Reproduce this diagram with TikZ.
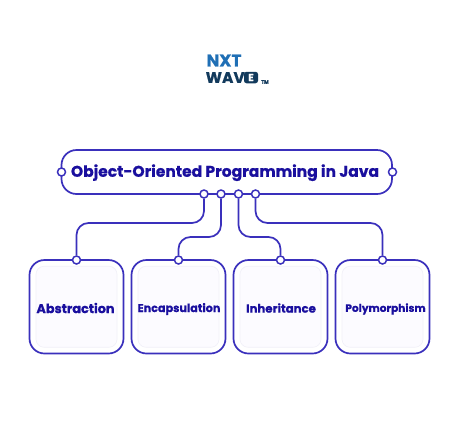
\documentclass[tikz,border=0pt]{standalone}
\usepackage{fontspec}
\setmainfont{Poppins}[BoldFeatures={FakeBold=0.6}]
\definecolor{linec}{HTML}{3A30BC}
\definecolor{textc}{HTML}{1A0F9E}
\definecolor{inner}{HTML}{FCFBFF}
\definecolor{innerl}{HTML}{F1F0F8}
\definecolor{logoa}{HTML}{1F6FB5}
\definecolor{logob}{HTML}{123A5C}
\tikzset{
  x=1pt,y=-1pt,
  titlebox/.style={draw=linec,line width=1.7pt,fill=white,rounded corners=15pt,minimum width=330.5pt,minimum height=44pt,inner sep=0pt},
  cardbox/.style={draw=linec,line width=1.7pt,fill=white,rounded corners=15pt,minimum width=94pt,minimum height=93.5pt,inner sep=0pt},
  cardin/.style={draw=innerl,line width=.6pt,fill=inner,rounded corners=8pt,minimum width=81pt,minimum height=81pt,inner sep=0pt},
  port/.style={circle,draw=linec,line width=1.5pt,fill=white,minimum size=8pt,inner sep=0pt},
  wire/.style={draw=linec,line width=1.7pt,rounded corners=12pt},
  lab/.style={font=\bfseries,text=textc,inner sep=0pt},
  logo/.style={font=\bfseries,inner sep=0pt}
}
\begin{document}
\begin{tikzpicture}
\useasboundingbox (0,0) rectangle (474,437);
\node[logo,text=logoa,font=\bfseries\fontsize{17}{17}\selectfont] (nxt) at (224,60.5) {NXT};
\node[logo,text=logob,font=\bfseries\fontsize{15.5}{15.5}\selectfont,anchor=west] (wave) at (205.5,77.5) {WAV};
\node[draw=none,fill=logob,rounded corners=2.5pt,minimum width=14pt,minimum height=11.5pt,inner sep=0pt,text=white,font=\bfseries\fontsize{10}{10}\selectfont] (waveE) at (251,77.5) {E};
\node[logo,text=logob,font=\bfseries\fontsize{5}{5}\selectfont] (tm) at (265,82) {TM};
\node[titlebox] (title) at (226.75,172) {};
\node[lab,font=\bfseries\fontsize{15.5}{15.5}\selectfont] (titlet) at (225,172.7) {Object-Oriented Programming in Java};
\node[cardbox] (c1) at (76.5,306.75) {};
\node[cardbox] (c2) at (178.5,306.75) {};
\node[cardbox] (c3) at (280.5,306.75) {};
\node[cardbox] (c4) at (382.5,306.75) {};
\node[cardin] (i1) at (76.5,306.75) {};
\node[cardin] (i2) at (178.5,306.75) {};
\node[cardin] (i3) at (280.5,306.75) {};
\node[cardin] (i4) at (382.5,306.75) {};
\node[lab,font=\bfseries\fontsize{12.8}{13}\selectfont] (t1) at (75.5,308) {Abstraction};
\node[lab,font=\bfseries\fontsize{11.2}{12}\selectfont] (t2) at (179,309) {Encapsulation};
\node[lab,font=\bfseries\fontsize{11.7}{12}\selectfont] (t3) at (281,308) {Inheritance};
\node[lab,font=\bfseries\fontsize{10.6}{12}\selectfont] (t4) at (385.5,309) {Polymorphism};
\node[port] (pl) at (61.5,172) {};
\node[port] (pr) at (392.5,172) {};
\node[port] (d1) at (204,194) {};
\node[port] (d2) at (221,194) {};
\node[port] (d3) at (238.5,194) {};
\node[port] (d4) at (255.5,194) {};
\node[port] (u1) at (76.5,260) {};
\node[port] (u2) at (178.5,260) {};
\node[port] (u3) at (280.5,260) {};
\node[port] (u4) at (382.5,260) {};
\coordinate (m1) at (76.5,223);
\coordinate (m2) at (178.5,237);
\coordinate (m3) at (280.5,237);
\coordinate (m4) at (382.5,223);
\draw[wire] (d1.south) -- (d1 |- m1) -- (m1) -- (u1.north);
\draw[wire] (d2.south) -- (d2 |- m2) -- (m2) -- (u2.north);
\draw[wire] (d3.south) -- (d3 |- m3) -- (m3) -- (u3.north);
\draw[wire] (d4.south) -- (d4 |- m4) -- (m4) -- (u4.north);
\end{tikzpicture}
\end{document}
